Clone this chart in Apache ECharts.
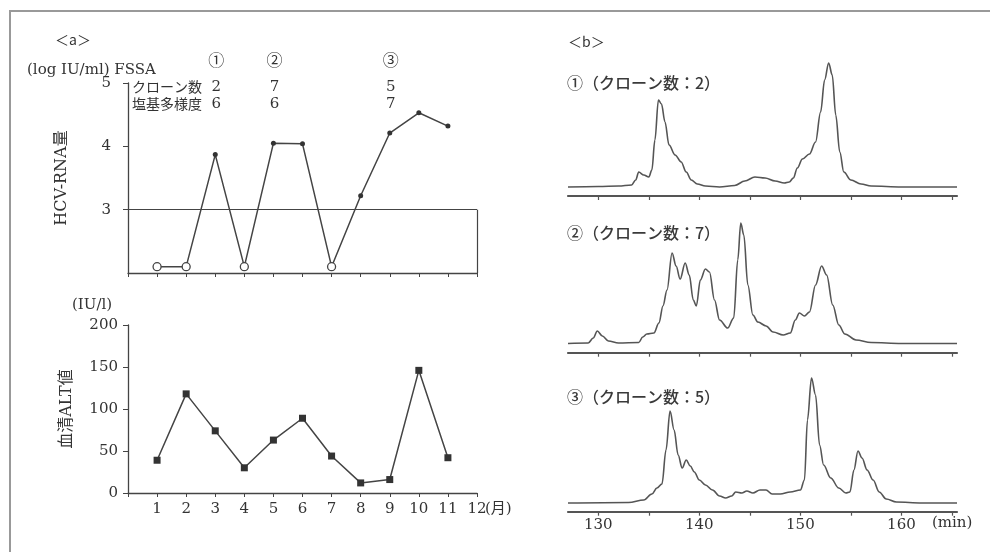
<!DOCTYPE html>
<html><head><meta charset="utf-8">
<script src="https://cdn.jsdelivr.net/npm/echarts@6/dist/echarts.min.js"></script>
<style>html,body{margin:0;padding:0;background:#fff}#c{width:990px;height:552px}</style>
</head><body><div id="c"></div>
<script>
// ---------- data ----------
const months = [1,2,3,4,5,6,7,8,9,10,11];
const hcvRna = [2.1,2.1,3.87,2.1,4.05,4.04,2.1,3.22,4.21,4.53,4.32];
const hcvBelowLimit = [true,true,false,true,false,false,true,false,false,false,false];
const altValues = [39,118,74,30,63,89,44,12,16,146,42];
const detectionLimit = 3;
const hcvTicks = [3,4,5];
const altTicks = [0,50,100,150,200];
const monthTickLabels = [1,2,3,4,5,6,7,8,9,10,11,12];
const fssaMarks = ['①','②','③'];
const fssaMonths = [3,5,9];
const cloneCounts = [2,7,5];
const diversity = [6,6,7];
const chromTitles = ['①（クローン数：2）','②（クローン数：7）','③（クローン数：5）'];

const chromTime1 = [127,130,132,133.3,133.7,134,134.5,135,135.3,135.6,135.95,136.25,136.6,137,137.6,138.2,138.7,139.2,139.8,140.6,142,143.5,144.5,145.5,146.5,147.5,148.4,148.9,149.3,149.7,150.2,150.9,151.5,152,152.4,152.8,153.15,153.5,153.9,154.3,155,156,157,160,165.5];
const chromSignal1 = [6.4,6.8,7.1,7.9,11.4,17.1,15,13.6,18.6,40,68.6,65.7,52.9,36.4,29.3,24.3,17.1,11.4,8.6,7.1,6.4,7.5,10.7,13.6,12.9,10.7,9.3,10,12.9,20,26.4,30,38.6,60,82.9,95,86.4,57.9,31.4,17.1,11.4,8.6,7.1,6.4,6.4];

const chromTime2 = [127,129,129.5,129.9,130.4,131,132,134,134.4,134.8,135.5,136,136.4,136.8,137.3,137.7,138.1,138.6,139,139.4,139.7,140.1,140.6,141,141.5,142,142.8,143.4,143.8,144.1,144.4,144.8,145.3,145.8,146.6,147.3,148.3,149,149.5,149.9,150.4,150.9,151.5,152.1,152.6,153.2,153.8,154.4,155.5,157,160,165.5];
const chromSignal2 = [6.6,6.9,10.5,15.5,11.9,8.4,6.9,7.3,11.2,13.4,14.1,21.2,33.4,44.8,71.2,61.9,52.6,64.1,55.5,37.6,33.4,51.9,59.8,57.6,37.6,23.4,17.6,24.8,66.2,92.6,84.1,48.4,26.9,21.9,19.1,14.8,12.6,14.1,23.4,28.4,26.2,29.1,48.4,61.9,55.5,34.1,19.8,13.4,9.1,7.3,6.6,6.6];

const chromTime3 = [127,133,134.5,135.3,135.8,136.3,136.7,137.1,137.5,137.9,138.3,138.7,139.1,139.5,140,140.6,141.3,142,142.6,143.2,143.6,144.2,144.7,145.3,146,146.6,147.2,148,149,150,150.4,150.7,151.1,151.5,151.9,152.3,153,153.8,154.5,154.9,155.3,155.7,156.1,156.6,157.2,157.8,158.5,159.5,162,165.5];
const chromSignal3 = [6.2,6.6,8.4,12.6,16.9,19.8,44.1,71.9,58.4,40.5,31.2,36.9,32.6,28.4,22.6,19.1,15.5,11.2,9.8,11.2,14.1,13.4,14.8,13.4,15.5,15.5,12.6,12.6,14.1,15.5,22.6,65.5,95.5,83.4,47.6,33.4,24.1,16.9,13.4,14.1,29.8,43.4,38.4,29.8,22.6,14.1,9.1,6.9,6.2,6.2];

const minTickValues = [130,135,140,145,150,155,160,165];
const minLabelValues = [130,140,150,160];

// ---------- styles ----------
const INK = '#444';
const TXT = '#333';
const SERIF = "'DejaVu Serif','Noto Sans CJK JP'";
const CJK = "'Noto Sans CJK JP'";

const chart = echarts.init(document.getElementById('c'), null, {renderer:'canvas'});

const chromSets = [[chromTime1, chromSignal1],[chromTime2, chromSignal2],[chromTime3, chromSignal3]];
const chromTops = [56, 212.7, 371.7];

const grids = [
  {left:128, top:83, width:349, height:190},
  {left:128, top:325, width:349, height:168}
].concat(chromTops.map(t => ({left:568, top:t, width:389, height:140})));

const monthAxis = (gi, showLabels) => ({
  type:'value', gridIndex:gi, min:0, max:12, interval:1,
  axisLine:{show:true, onZero:false, lineStyle:{color:INK, width:1.3}},
  axisTick:{show:true, length:4, lineStyle:{color:INK}},
  axisLabel:{show:showLabels, color:TXT, fontFamily:SERIF, fontSize:15, margin:9,
    customValues: monthTickLabels},
  splitLine:{show:false}
});

const xAxes = [monthAxis(0,false), monthAxis(1,true)].concat([0,1,2].map(i => ({
  type:'value', gridIndex:2+i, min:127, max:165.5,
  axisLine:{show:true, onZero:false, lineStyle:{color:'#555', width:2.2}},
  axisTick:{show:true, length:4, customValues:minTickValues, lineStyle:{color:'#555', width:1.2}},
  axisLabel:{show:i===2, customValues:minLabelValues, color:TXT, fontFamily:SERIF, fontSize:15, margin:6},
  splitLine:{show:false}
})));

const yAxes = [
  {type:'value', gridIndex:0, min:2, max:5, interval:1,
   name:'HCV-RNA量', nameLocation:'middle', nameRotate:90, nameGap:58,
   nameTextStyle:{color:TXT, fontFamily:SERIF, fontSize:16},
   axisLine:{show:true, lineStyle:{color:INK, width:1.3}},
   axisTick:{show:true, length:5, customValues:hcvTicks, lineStyle:{color:INK}},
   axisLabel:{color:TXT, fontFamily:SERIF, fontSize:15, margin:17, customValues:hcvTicks},
   splitLine:{show:false}},
  {type:'value', gridIndex:1, min:0, max:200, interval:50,
   name:'血清ALT値', nameLocation:'middle', nameRotate:90, nameGap:53,
   nameTextStyle:{color:TXT, fontFamily:SERIF, fontSize:16},
   axisLine:{show:true, lineStyle:{color:INK, width:1.3}},
   axisTick:{show:true, length:5, customValues:altTicks, lineStyle:{color:INK}},
   axisLabel:{color:TXT, fontFamily:SERIF, fontSize:15, margin:10, customValues:altTicks},
   splitLine:{show:false}}
].concat([0,1,2].map(i => ({type:'value', gridIndex:2+i, min:0, max:100, show:false})));

const hcvData = months.map((m,i) => ({
  value:[m, hcvRna[i]],
  symbol:'circle',
  symbolSize: hcvBelowLimit[i] ? 8 : 5,
  itemStyle: hcvBelowLimit[i] ? {color:'#fff', borderColor:INK, borderWidth:1.3} : {color:'#333', borderColor:'#333', borderWidth:0}
}));

const series = [
  {type:'line', xAxisIndex:0, yAxisIndex:0, data:hcvData, lineStyle:{color:INK, width:1.5},
   showSymbol:true, animation:false, z:3,
   markLine:{silent:true, symbol:'none', label:{show:false}, animation:false,
     lineStyle:{color:INK, width:1.2, type:'solid'},
     data:[[{coord:[0, detectionLimit]},{coord:[12, detectionLimit]}],
           [{coord:[12, 2]},{coord:[12, detectionLimit]}]]}},
  {type:'line', xAxisIndex:1, yAxisIndex:1, data:months.map((m,i)=>[m, altValues[i]]),
   symbol:'rect', symbolSize:7, itemStyle:{color:'#333'}, lineStyle:{color:INK, width:1.5},
   animation:false}
].concat(chromSets.map((s,i) => ({
  type:'line', xAxisIndex:2+i, yAxisIndex:2+i, data:s[0].map((t,k)=>[t, s[1][k]]),
  showSymbol:false, smooth:0.35, smoothMonotone:'x', lineStyle:{color:'#555', width:1.6},
  animation:false
})));

chart.setOption({backgroundColor:'#fff', animation:false, grid:grids, xAxis:xAxes, yAxis:yAxes, series:series});

// ---------- text overlays ----------
const g = [];
// frame
g.push({type:'polyline', shape:{points:[[10,552],[10,11],[990,11]]}, style:{stroke:'#999', lineWidth:2, fill:null}, silent:true});
const txt = (x,y,text,opts) => g.push(Object.assign({type:'text', x:x, y:y, silent:true,
  style:Object.assign({text:text, fill:TXT, font:'15px '+SERIF, textAlign:'left', textVerticalAlign:'middle'}, opts||{})}));

txt(55,40,'＜a＞',{font:'14px '+CJK});
txt(27,70,'(log IU/ml) FSSA',{font:'15px '+SERIF});
txt(132,87,'クローン数',{font:'14px '+CJK});
txt(132,104,'塩基多様度',{font:'14px '+CJK});
fssaMonths.forEach((m,i) => {
  const px = chart.convertToPixel({xAxisIndex:0}, m);
  txt(px+1, 60, fssaMarks[i], {font:'16px '+CJK, textAlign:'center'});
  txt(px+1, 87, String(cloneCounts[i]), {font:'15px '+SERIF, textAlign:'center'});
  txt(px+1, 104, String(diversity[i]), {font:'15px '+SERIF, textAlign:'center'});
});
txt(72,305,'(IU/l)',{font:'15px '+SERIF});
txt(485,509,'(月)',{font:'15px '+SERIF});

txt(568,42,'＜b＞',{font:'14px '+CJK});
const titleY = [83, 233, 397];
chromTitles.forEach((t,i) => txt(567, titleY[i], t, {font:'500 16px '+CJK, fill:'#3a3a3a'}));
txt(932,523,'(min)',{font:'15px '+SERIF});

chart.setOption({graphic:g});
</script>
</body></html>
